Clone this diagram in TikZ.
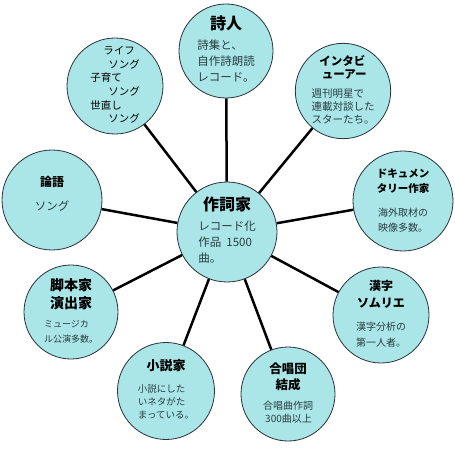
\documentclass[tikz,border=0pt]{standalone}
\usepackage{fontspec}
\setmainfont{Noto Sans CJK JP}
\usetikzlibrary{positioning}
\definecolor{bubfill}{RGB}{170,230,232}
\definecolor{bubline}{RGB}{40,50,55}
\definecolor{bodyink}{RGB}{40,60,65}
% heading and body blocks inside the bubbles
\newcommand{\hd}[3]{{\fontsize{#1}{#2}\selectfont\bfseries\begin{tabular}{@{}c@{}}#3\end{tabular}}}
\newcommand{\hdl}[3]{{\fontsize{#1}{#2}\selectfont\bfseries\begin{tabular}{@{}l@{}}#3\end{tabular}}}
\newcommand{\bd}[3]{{\color{bodyink}\fontsize{#1}{#2}\selectfont\begin{tabular}{@{}l@{}}#3\end{tabular}}}

\begin{document}
\begin{tikzpicture}[x=1pt, y=-1pt]
\tikzset{bub/.style={circle, draw=bubline, line width=0.8pt, fill=bubfill, minimum size=96pt, inner sep=0pt, align=center},
  spoke/.style={line width=2.5pt, black}}
\useasboundingbox (0,0) rectangle (455,449);
\node[bub, minimum size=100pt] (c) at (227,232) {\hd{16}{18}{作詞家}\\[3pt]\bd{11.5}{16}{レコード化\\作品\ \ 1500\\曲。}};
\node[bub, minimum size=94pt] (poet) at (226,51) {\hd{16}{18}{詩人}\\[2pt]\bd{11.5}{16}{詩集と、\\自作詩朗読\\レコード。}};
\node[bub, minimum size=94pt] (intv) at (343,91) {\hdl{11.5}{13}{インタビ\\\ ューアー}\\[6pt]\bd{10.5}{12.5}{週刊明星で\\連載対談した\\スターたち。}};
\node[bub, minimum size=100pt] (docu) at (403,201) {\hd{10.5}{15}{ドキュメン\\タリー作家}\\[8pt]\bd{10}{15}{海外取材の\\映像多数。}};
\node[bub, minimum size=96pt] (kanji) at (381,315) {\hd{12}{17}{漢字\\ソムリエ}\\[5pt]\bd{10}{16}{漢字分析の\\第一人者。}};
\node[bub, minimum size=94pt] (choir) at (288,394) {\hd{12.5}{16}{合唱団\\結成}\\[5pt]\bd{10}{13}{合唱曲作詞\\\ 300曲以上}};
\node[bub, minimum size=97pt] (novel) at (166,391) {\hd{13}{15}{小説家}\\[7pt]\bd{9.5}{13}{小説にした\\いネタがた\\まっている。}};
\node[bub, minimum size=94pt] (script) at (71,312) {\hd{14}{18}{脚本家\\演出家}\\[2pt]\bd{9}{15}{ミュージカ\\ル公演多数。}};
\node[bub, minimum size=100pt] (rongo) at (52,200) {\hd{12}{14}{論語}\\[9pt]\bd{11.5}{13}{ソング\rule[-14pt]{0pt}{0pt}}};
\node[bub, minimum size=96pt] (life) at (115,86) {{\fontsize{10.5}{13.6}\selectfont\begin{tabular}{@{}l@{}}\hspace{13pt}ライフ\\\hspace{18pt}ソング\\子育て\\\hspace{18pt}ソング\\世直し\\\hspace{18pt}ソング\end{tabular}}};
\foreach \o in {poet, intv, docu, kanji, choir, novel, script, rongo, life}
  \draw[spoke] (c) -- (\o);
\end{tikzpicture}
\end{document}
